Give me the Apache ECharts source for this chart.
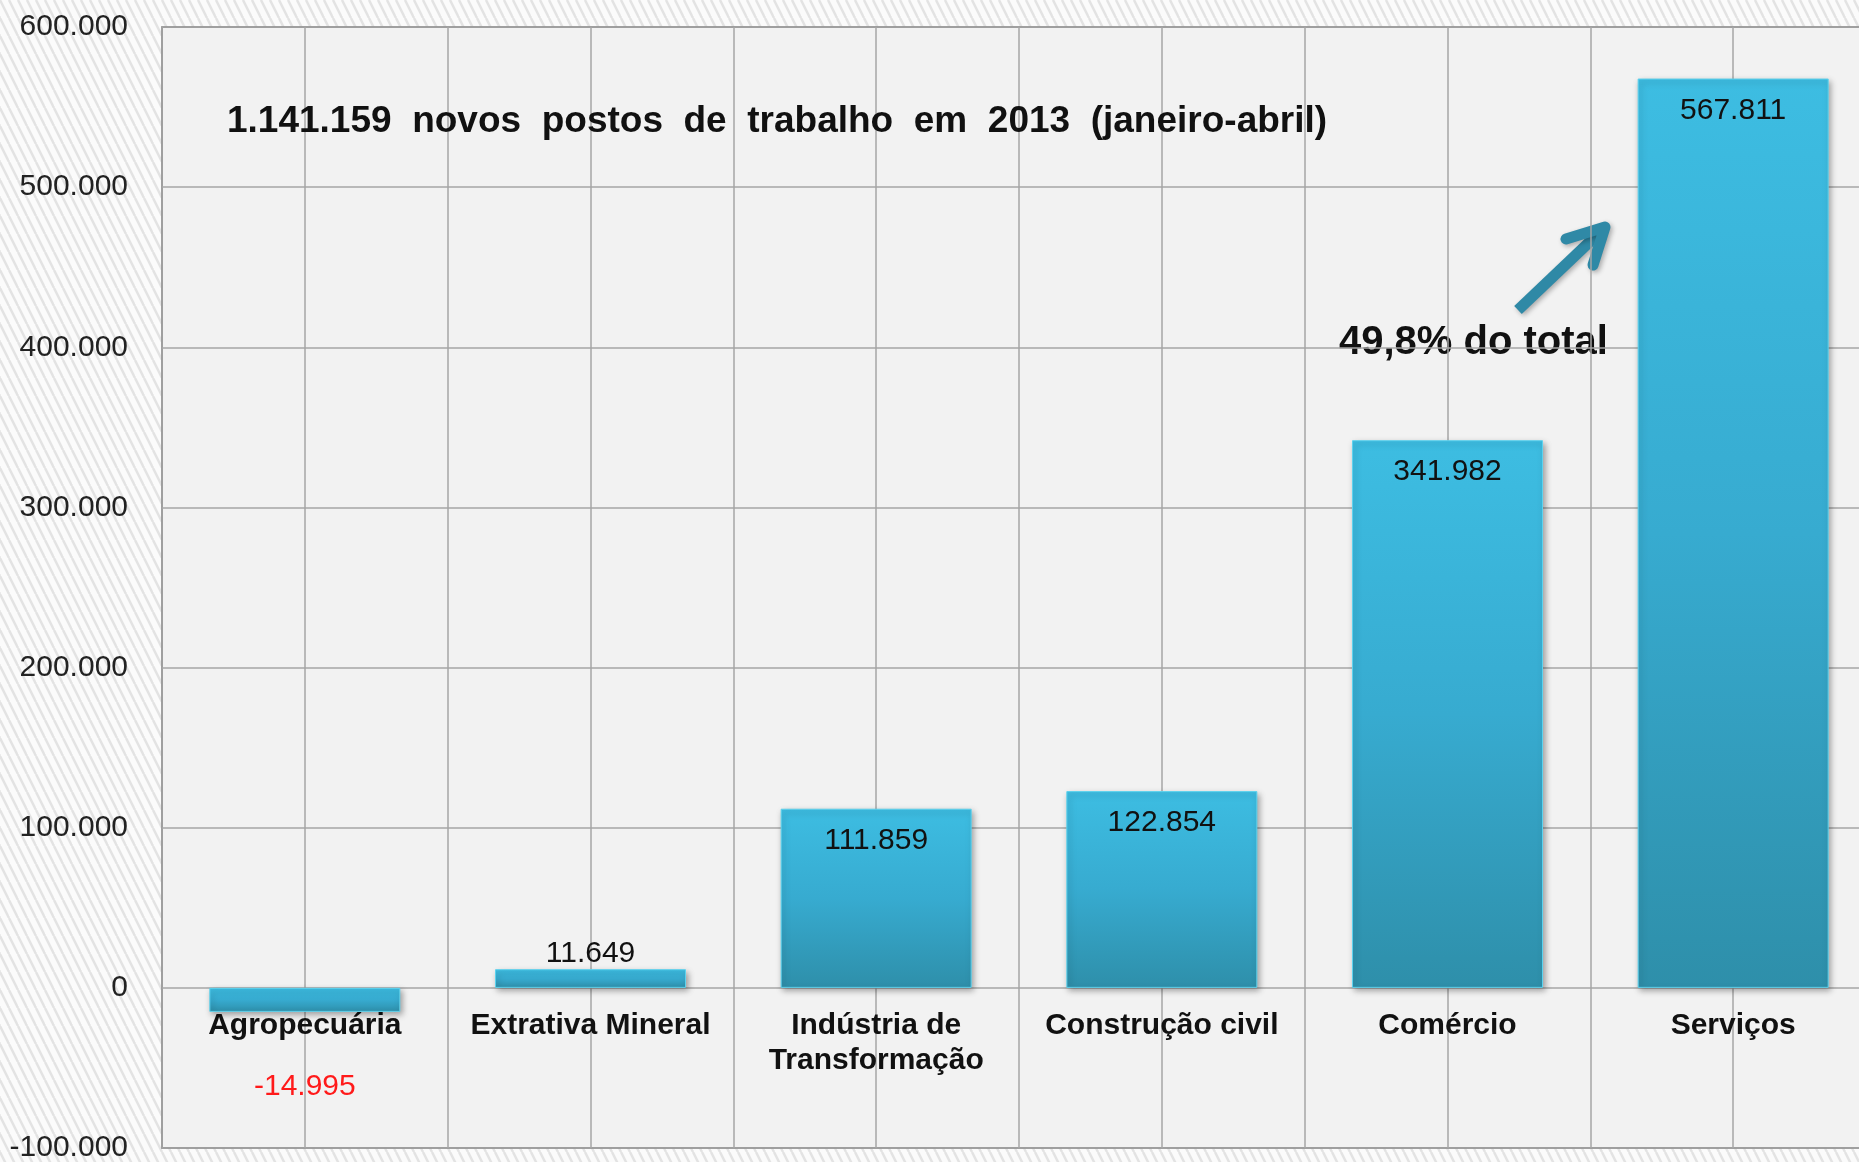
<!DOCTYPE html>
<html>
<head>
<meta charset="utf-8">
<script src="https://cdn.jsdelivr.net/npm/echarts@6/dist/echarts.min.js"></script>
<style>
    html, body { margin: 0; padding: 0; }
    #chart { width: 1859px; height: 1162px; }
</style>
</head>
<body>
<div id="chart"></div>
<script>
    // dados
    const categories = ['Agropecuária', 'Extrativa Mineral', 'Indústria de\nTransformação', 'Construção civil', 'Comércio', 'Serviços']
    const values = [-14995, 11649, 111859, 122854, 341982, 567811]
    const yTicks = [-100000, 0, 100000, 200000, 300000, 400000, 500000, 600000]

    const titleText = '1.141.159  novos  postos  de  trabalho  em  2013  (janeiro-abril)'
    const noteText = '49,8% do total'

    function fmt(v) {
        let s = String(Math.abs(v)).replace(/\B(?=(\d{3})+(?!\d))/g, '.')
        return (v < 0 ? '-' : '') + s
    }

    // fundo listrado
    let pat = document.createElement('canvas')
    pat.width = 9
    pat.height = 18
    let ctx = pat.getContext('2d')
    ctx.fillStyle = '#fbfbfb'
    ctx.fillRect(0, 0, 9, 18)
    ctx.strokeStyle = '#e3e3e3'
    ctx.lineWidth = 2.5
    for (let k = -9; k <= 9; k += 9) {
        ctx.beginPath()
        ctx.moveTo(k, 0)
        ctx.lineTo(k + 9, 18)
        ctx.stroke()
    }

    const font = '"Liberation Sans", Arial, sans-serif'

    let barData = values.map(v => {
        let label
        if (v < 0) {
            label = {position: 'bottom', distance: 60, color: '#ff1a1a'}
        } else if (v < 50000) {
            label = {position: 'top', distance: 0, color: '#111'}
        } else {
            label = {position: 'insideTop', distance: 17, color: '#111'}
        }
        return {value: v, label: label}
    })

    let myChart = echarts.init(document.getElementById('chart'))
    myChart.setOption({
        backgroundColor: {image: pat, repeat: 'repeat'},
        animation: false,
        title: {
            text: titleText,
            left: 222,
            top: 98,
            textStyle: {fontFamily: font, fontWeight: 'bold', fontSize: 37, color: '#111'}
        },
        grid: {
            left: 162,
            top: 27,
            width: 1714,
            height: 1121,
            outerBoundsMode: 'none',
            containLabel: false,
            show: true,
            backgroundColor: '#f2f2f2',
            borderColor: '#6b6b6b',
            borderWidth: 1.5
        },
        xAxis: [
            {
                type: 'category',
                data: categories,
                position: 'bottom',
                axisLine: {show: false, onZero: false},
                axisTick: {show: false},
                splitLine: {show: false},
                axisLabel: {
                    interval: 0,
                    // rótulos logo abaixo da linha do zero
                    margin: -140,
                    fontFamily: font,
                    fontWeight: 'bold',
                    fontSize: 30,
                    lineHeight: 35,
                    color: '#111'
                }
            },
            {
                // linhas verticais a cada meia categoria
                type: 'value',
                position: 'top',
                min: 0,
                max: 12,
                interval: 1,
                axisLine: {show: false},
                axisTick: {show: false},
                axisLabel: {show: false},
                splitLine: {show: true, lineStyle: {color: '#a6a6a6', width: 1.5}}
            }
        ],
        yAxis: {
            type: 'value',
            min: yTicks[0],
            max: yTicks[yTicks.length - 1],
            interval: 100000,
            axisLine: {show: false},
            axisTick: {show: false},
            axisLabel: {
                margin: 34,
                fontFamily: font,
                fontSize: 30,
                color: '#222',
                formatter: v => fmt(v)
            },
            splitLine: {lineStyle: {color: '#a6a6a6', width: 1.5}}
        },
        series: [
            {
                type: 'bar',
                xAxisIndex: 0,
                data: barData,
                barWidth: 191,
                label: {
                    show: true,
                    fontFamily: font,
                    fontSize: 30,
                    formatter: p => fmt(p.value)
                },
                itemStyle: {
                    color: new echarts.graphic.LinearGradient(0, 0, 0, 1, [
                        {offset: 0, color: '#3dbde2'},
                        {offset: 0.5, color: '#37abd0'},
                        {offset: 1, color: '#2e8faa'}
                    ]),
                    borderColor: '#5cd2ee',
                    borderWidth: 1,
                    shadowColor: 'rgba(0,0,0,0.35)',
                    shadowBlur: 6,
                    shadowOffsetX: 2,
                    shadowOffsetY: 3
                }
            }
        ],
        graphic: [
            {
                type: 'text',
                left: 1339,
                top: 323,
                style: {text: noteText, font: 'bold 40px ' + font, fill: '#111'}
            },
            {
                type: 'line',
                shape: {x1: 1518, y1: 310, x2: 1600, y2: 232},
                style: {stroke: '#2f89a6', lineWidth: 11, shadowBlur: 5, shadowColor: 'rgba(0,0,0,0.3)', shadowOffsetX: 2, shadowOffsetY: 2}
            },
            {
                type: 'polyline',
                shape: {points: [[1566, 239], [1605, 227], [1593, 265]]},
                style: {stroke: '#2f89a6', lineWidth: 11, fill: null, lineJoin: 'round', lineCap: 'round', shadowBlur: 5, shadowColor: 'rgba(0,0,0,0.3)', shadowOffsetX: 2, shadowOffsetY: 2}
            }
        ]
    })
</script>
</body>
</html>
